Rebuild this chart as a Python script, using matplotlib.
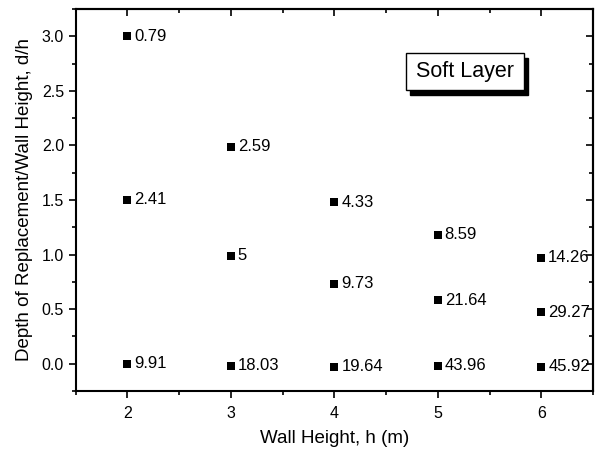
import matplotlib
matplotlib.use("Agg")
import matplotlib.pyplot as plt
from matplotlib.ticker import MultipleLocator, FormatStrFormatter
from matplotlib.patches import Rectangle

plt.rcParams['font.family'] = ['Liberation Sans', 'DejaVu Sans']

wall_h = [2, 2, 2, 3, 3, 3, 4, 4, 4, 5, 5, 5, 6, 6, 6]
d_over_h = [3.0, 1.5, 0.0, 1.99, 0.99, -0.02, 1.48, 0.73, -0.03,
            1.18, 0.58, -0.02, 0.97, 0.47, -0.03]
labels = ["0.79", "2.41", "9.91", "2.59", "5", "18.03", "4.33", "9.73", "19.64",
          "8.59", "21.64", "43.96", "14.26", "29.27", "45.92"]

fig = plt.figure(figsize=(6.06, 4.54), dpi=100)
ax = fig.add_axes([0.125, 0.139, 0.8535, 0.841])

ax.scatter(wall_h, d_over_h, marker='s', s=32, color='black', zorder=3, linewidths=0)
for x, y, t in zip(wall_h, d_over_h, labels):
    ax.annotate(t, (x, y), xytext=(5, 0), textcoords='offset points',
                va='center', ha='left', fontsize=12)

ax.set_xlim(1.5, 6.5)
ax.set_ylim(-0.25, 3.25)
ax.xaxis.set_major_locator(MultipleLocator(1))
ax.xaxis.set_minor_locator(MultipleLocator(0.5))
ax.yaxis.set_major_locator(MultipleLocator(0.5))
ax.yaxis.set_minor_locator(MultipleLocator(0.25))
ax.yaxis.set_major_formatter(FormatStrFormatter('%.1f'))

ax.tick_params(which='both', direction='out', width=1.2, labelsize=11.5,
               top=False, right=False)
ax.tick_params(which='major', length=5)
ax.tick_params(which='minor', length=3)
ax.tick_params(axis='x', pad=6)

secx = ax.secondary_xaxis('top')
secx.xaxis.set_major_locator(MultipleLocator(1))
secx.xaxis.set_minor_locator(MultipleLocator(0.5))
secx.tick_params(which='both', direction='in', labeltop=False, width=1.2)
secx.tick_params(which='major', length=5)
secx.tick_params(which='minor', length=3)
secy = ax.secondary_yaxis('right')
secy.yaxis.set_major_locator(MultipleLocator(0.5))
secy.yaxis.set_minor_locator(MultipleLocator(0.25))
secy.tick_params(which='both', direction='in', labelright=False, width=1.2)
secy.tick_params(which='major', length=5)
secy.tick_params(which='minor', length=3)
for s in list(ax.spines.values()) + [secx.spines['top'], secy.spines['right']]:
    s.set_linewidth(1.5)

ax.set_xlabel("Wall Height, h (m)", fontsize=13.5, labelpad=6)
ax.set_ylabel("Depth of Replacement/Wall Height, d/h", fontsize=13.5, labelpad=6)

# "Soft Layer" box with drop shadow
bx, by, bw, bh = 0.6385, 0.788, 0.228, 0.097
ax.add_patch(Rectangle((bx + 0.0085, by - 0.012), bw, bh, transform=ax.transAxes,
                       facecolor='black', edgecolor='black', zorder=4))
ax.add_patch(Rectangle((bx, by), bw, bh, transform=ax.transAxes,
                       facecolor='white', edgecolor='black', linewidth=1.0, zorder=5))
ax.text(bx + bw / 2, by + bh / 2, "Soft Layer", transform=ax.transAxes, fontsize=15.5,
        ha='center', va='center', zorder=6)

fig.savefig("out.png", dpi=100)
